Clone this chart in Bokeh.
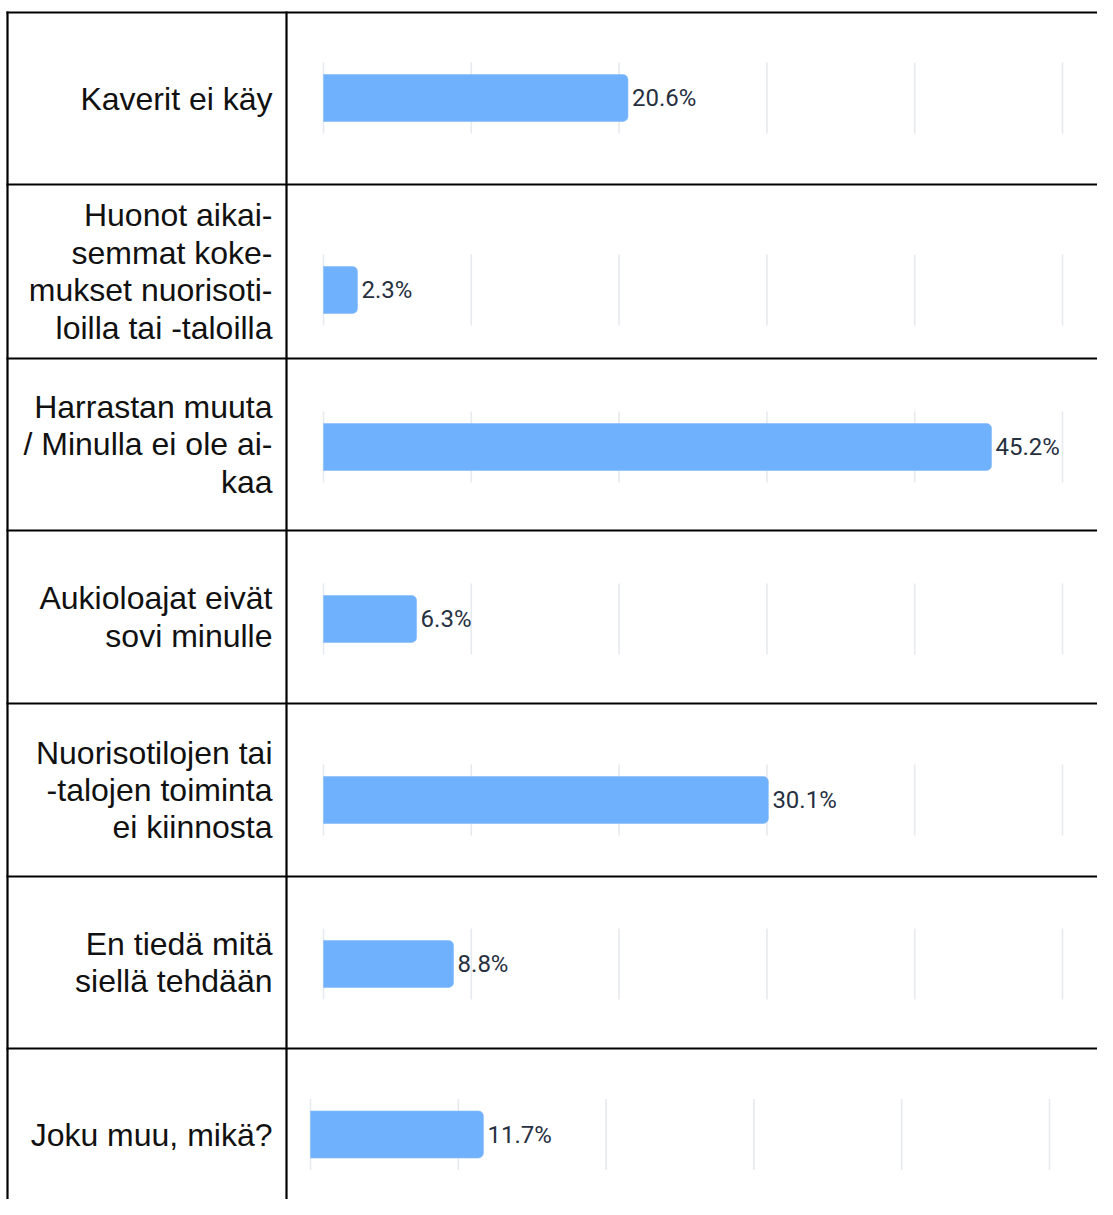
from bokeh.plotting import figure
from bokeh.models import Range1d, ColumnDataSource
from bokeh.embed import file_html
from bokeh.resources import INLINE
from bokeh.core.properties import value

# ---- data ----
categories = [
    "Kaverit ei käy",
    "Huonot aikai-\nsemmat koke-\nmukset nuorisoti-\nloilla tai -taloilla",
    "Harrastan muuta\n/ Minulla ei ole ai-\nkaa",
    "Aukioloajat eivät\nsovi minulle",
    "Nuorisotilojen tai\n-talojen toiminta\nei kiinnosta",
    "En tiedä mitä\nsiellä tehdään",
    "Joku muu, mikä?",
]
values = [20.6, 2.3, 45.2, 6.3, 30.1, 8.8, 11.7]
value_labels = ["20.6%", "2.3%", "45.2%", "6.3%", "30.1%", "8.8%", "11.7%"]
ticks = [0, 10, 20, 30, 40, 50]

# ---- layout (reference pixel coordinates) ----
W, H = 1097, 1199
PX0, PY0 = 0, 0
row_lines = [12, 184, 358, 530, 703, 876, 1048]
label_y = [98, 271, 444, 616.5, 789.5, 962, 1134]
bar_y = [97.5, 289.5, 446.5, 618.5, 799.5, 963.5, 1134]
bar_h = 47
grid_half = 35.5
scale = 14.78
origins = [323, 323, 323, 323, 323, 323, 310]

def pct_range(origin):
    return Range1d(start=(PX0 - origin) / scale, end=(PX0 + W - origin) / scale)

p = figure(width=W, height=H, output_backend="svg", toolbar_location=None,
           x_range=pct_range(323), y_range=Range1d(start=PY0 + H, end=PY0),
           min_border=0, min_border_left=0, min_border_right=0,
           min_border_top=0, min_border_bottom=0)
p.extra_x_ranges = {"r7": pct_range(310), "page": Range1d(start=PX0, end=PX0 + W)}
p.axis.visible = False
p.xgrid.visible = False
p.ygrid.visible = False
p.outline_line_color = None
p.background_fill_color = "white"
p.border_fill_color = "white"

# gridlines and bars per row
for i, (v, lab) in enumerate(zip(values, value_labels)):
    rn = "r7" if origins[i] == 310 else "default"
    gsrc = ColumnDataSource(dict(x=ticks, y0=[bar_y[i] - grid_half] * len(ticks),
                                 y1=[bar_y[i] + grid_half] * len(ticks)))
    p.segment(x0="x", x1="x", y0="y0", y1="y1", source=gsrc, line_color="#e6e9ee",
              line_width=1.6, x_range_name=rn)
    bsrc = ColumnDataSource(dict(y=[bar_y[i]], right=[v], lab=[lab]))
    p.hbar(y="y", left=0, right="right", height=bar_h, source=bsrc,
           fill_color="#70b1fd", line_color="#86bdfb", line_width=0.6,
           border_radius=(0, 5, 5, 0), x_range_name=rn)
    p.text(x="right", y="y", text="lab", source=bsrc, x_offset=4,
           text_font=value("Roboto"), text_font_size="24px", text_color="#27303f",
           text_align="left", text_baseline="middle", x_range_name=rn)

# table borders
hsrc = ColumnDataSource(dict(x0=[6] * len(row_lines), x1=[PX0 + W] * len(row_lines),
                             y=row_lines))
p.segment(x0="x0", x1="x1", y0="y", y1="y", source=hsrc, line_color="black",
          line_width=2.2, x_range_name="page")
vsrc = ColumnDataSource(dict(x=[7, 286], y0=[11, 11], y1=[PY0 + H, PY0 + H]))
p.segment(x0="x", x1="x", y0="y0", y1="y1", source=vsrc, line_color="black",
          line_width=2.2, x_range_name="page")

# category labels
lsrc = ColumnDataSource(dict(x=[272] * len(categories), y=label_y, t=categories))
p.text(x="x", y="y", text="t", source=lsrc, text_font=value("Liberation Sans"),
       text_font_size="32px", text_color="#111111", text_align="right",
       text_baseline="middle", text_line_height=1.04, x_range_name="page")

open("out.html", "w").write(file_html(p, INLINE))
